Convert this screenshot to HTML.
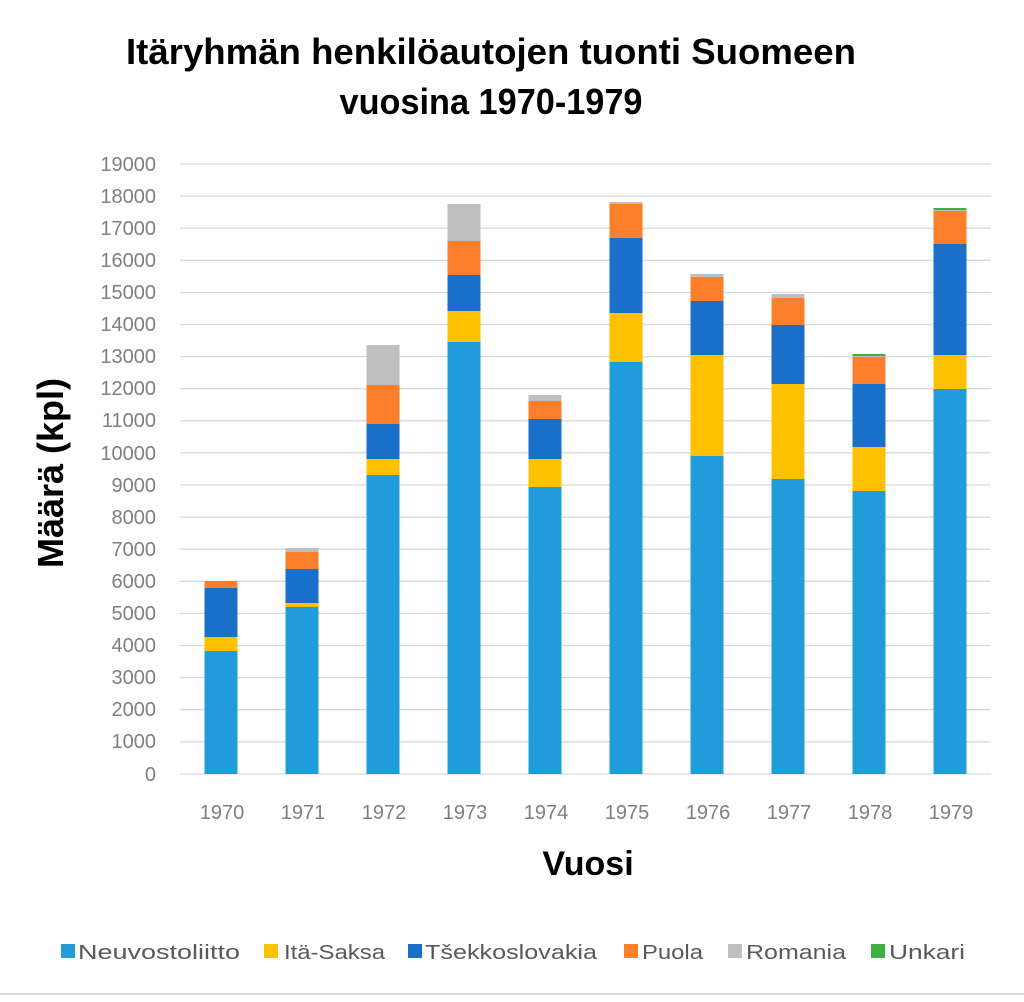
<!DOCTYPE html>
<html><head><meta charset="utf-8"><style>
body{margin:0;background:#fff}
svg text{font-family:"Liberation Sans",sans-serif}
</style></head><body>
<svg width="1024" height="997" viewBox="0 0 1024 997" xmlns="http://www.w3.org/2000/svg">
<rect width="1024" height="997" fill="#fff"/>
<text x="491" y="64" font-size="36" font-weight="bold" text-anchor="middle" textLength="730" lengthAdjust="spacingAndGlyphs">Itäryhmän henkilöautojen tuonti Suomeen</text>
<text x="491" y="114" font-size="36" font-weight="bold" text-anchor="middle" textLength="303" lengthAdjust="spacingAndGlyphs">vuosina 1970-1979</text>
<g stroke="#d9d9d9" stroke-width="1.3">
<line x1="180" x2="991" y1="164" y2="164"/><line x1="180" x2="991" y1="196.1" y2="196.1"/><line x1="180" x2="991" y1="228.2" y2="228.2"/><line x1="180" x2="991" y1="260.3" y2="260.3"/><line x1="180" x2="991" y1="292.4" y2="292.4"/><line x1="180" x2="991" y1="324.5" y2="324.5"/><line x1="180" x2="991" y1="356.6" y2="356.6"/><line x1="180" x2="991" y1="388.7" y2="388.7"/><line x1="180" x2="991" y1="420.8" y2="420.8"/><line x1="180" x2="991" y1="452.9" y2="452.9"/><line x1="180" x2="991" y1="485" y2="485"/><line x1="180" x2="991" y1="517.1" y2="517.1"/><line x1="180" x2="991" y1="549.2" y2="549.2"/><line x1="180" x2="991" y1="581.3" y2="581.3"/><line x1="180" x2="991" y1="613.4" y2="613.4"/><line x1="180" x2="991" y1="645.5" y2="645.5"/><line x1="180" x2="991" y1="677.6" y2="677.6"/><line x1="180" x2="991" y1="709.7" y2="709.7"/><line x1="180" x2="991" y1="741.8" y2="741.8"/><line x1="180" x2="991" y1="774" y2="774"/>
</g>
<g font-size="20" fill="#7f7f7f" text-anchor="end">
<text x="156" y="171">19000</text><text x="156" y="203">18000</text><text x="156" y="235">17000</text><text x="156" y="267">16000</text><text x="156" y="299">15000</text><text x="156" y="331">14000</text><text x="156" y="363">13000</text><text x="156" y="395">12000</text><text x="156" y="427">11000</text><text x="156" y="460">10000</text><text x="156" y="492">9000</text><text x="156" y="524">8000</text><text x="156" y="556">7000</text><text x="156" y="588">6000</text><text x="156" y="620">5000</text><text x="156" y="652">4000</text><text x="156" y="684">3000</text><text x="156" y="716">2000</text><text x="156" y="748">1000</text><text x="156" y="781">0</text>
</g>
<g>
<rect x="204.5" y="651" width="33" height="123" fill="#1f9cd9"/>
<rect x="204.5" y="637" width="33" height="14" fill="#ffc000"/>
<rect x="204.5" y="588" width="33" height="49" fill="#1a6fc8"/>
<rect x="204.5" y="581" width="33" height="7" fill="#fd7f2b"/>
<rect x="285.5" y="607" width="33" height="167" fill="#1f9cd9"/>
<rect x="285.5" y="603" width="33" height="4" fill="#ffc000"/>
<rect x="285.5" y="569" width="33" height="34" fill="#1a6fc8"/>
<rect x="285.5" y="552" width="33" height="17" fill="#fd7f2b"/>
<rect x="285.5" y="548" width="33" height="4" fill="#bfbfbf"/>
<rect x="366.5" y="475" width="33" height="299" fill="#1f9cd9"/>
<rect x="366.5" y="459" width="33" height="16" fill="#ffc000"/>
<rect x="366.5" y="424" width="33" height="35" fill="#1a6fc8"/>
<rect x="366.5" y="385" width="33" height="39" fill="#fd7f2b"/>
<rect x="366.5" y="345" width="33" height="40" fill="#bfbfbf"/>
<rect x="447.5" y="342" width="33" height="432" fill="#1f9cd9"/>
<rect x="447.5" y="311" width="33" height="31" fill="#ffc000"/>
<rect x="447.5" y="275" width="33" height="36" fill="#1a6fc8"/>
<rect x="447.5" y="241" width="33" height="34" fill="#fd7f2b"/>
<rect x="447.5" y="204" width="33" height="37" fill="#bfbfbf"/>
<rect x="528.5" y="487" width="33" height="287" fill="#1f9cd9"/>
<rect x="528.5" y="459" width="33" height="28" fill="#ffc000"/>
<rect x="528.5" y="419" width="33" height="40" fill="#1a6fc8"/>
<rect x="528.5" y="401" width="33" height="18" fill="#fd7f2b"/>
<rect x="528.5" y="395" width="33" height="6" fill="#bfbfbf"/>
<rect x="609.5" y="362" width="33" height="412" fill="#1f9cd9"/>
<rect x="609.5" y="313" width="33" height="49" fill="#ffc000"/>
<rect x="609.5" y="238" width="33" height="75" fill="#1a6fc8"/>
<rect x="609.5" y="204" width="33" height="34" fill="#fd7f2b"/>
<rect x="609.5" y="202" width="33" height="2" fill="#bfbfbf"/>
<rect x="690.5" y="456" width="33" height="318" fill="#1f9cd9"/>
<rect x="690.5" y="355" width="33" height="101" fill="#ffc000"/>
<rect x="690.5" y="301" width="33" height="54" fill="#1a6fc8"/>
<rect x="690.5" y="277" width="33" height="24" fill="#fd7f2b"/>
<rect x="690.5" y="274" width="33" height="3" fill="#bfbfbf"/>
<rect x="771.5" y="479" width="33" height="295" fill="#1f9cd9"/>
<rect x="771.5" y="384" width="33" height="95" fill="#ffc000"/>
<rect x="771.5" y="325" width="33" height="59" fill="#1a6fc8"/>
<rect x="771.5" y="298" width="33" height="27" fill="#fd7f2b"/>
<rect x="771.5" y="294" width="33" height="4" fill="#bfbfbf"/>
<rect x="852.5" y="491" width="33" height="283" fill="#1f9cd9"/>
<rect x="852.5" y="447" width="33" height="44" fill="#ffc000"/>
<rect x="852.5" y="384" width="33" height="63" fill="#1a6fc8"/>
<rect x="852.5" y="357" width="33" height="27" fill="#fd7f2b"/>
<rect x="852.5" y="356" width="33" height="1" fill="#bfbfbf"/>
<rect x="852.5" y="354" width="33" height="2" fill="#3cb043"/>
<rect x="933.5" y="389" width="33" height="385" fill="#1f9cd9"/>
<rect x="933.5" y="355" width="33" height="34" fill="#ffc000"/>
<rect x="933.5" y="244" width="33" height="111" fill="#1a6fc8"/>
<rect x="933.5" y="211" width="33" height="33" fill="#fd7f2b"/>
<rect x="933.5" y="210" width="33" height="1" fill="#bfbfbf"/>
<rect x="933.5" y="208" width="33" height="2" fill="#3cb043"/>
</g>
<g font-size="20" fill="#7f7f7f" text-anchor="middle">
<text x="222" y="819">1970</text><text x="303" y="819">1971</text><text x="384" y="819">1972</text><text x="465" y="819">1973</text><text x="546" y="819">1974</text><text x="627" y="819">1975</text><text x="708" y="819">1976</text><text x="789" y="819">1977</text><text x="870" y="819">1978</text><text x="951" y="819">1979</text>
</g>
<text x="588" y="875" font-size="34" font-weight="bold" text-anchor="middle">Vuosi</text>
<text transform="translate(63,473) rotate(-90)" font-size="36" font-weight="bold" text-anchor="middle">Määrä (kpl)</text>
<g font-size="20" fill="#595959">
<rect x="61" y="944" width="14" height="14" fill="#1f9cd9"/><text x="78" y="959" textLength="162" lengthAdjust="spacingAndGlyphs">Neuvostoliitto</text>
<rect x="264" y="944" width="14" height="14" fill="#ffc000"/><text x="284" y="959" textLength="101" lengthAdjust="spacingAndGlyphs">Itä-Saksa</text>
<rect x="408" y="944" width="14" height="14" fill="#1a6fc8"/><text x="425" y="959" textLength="172" lengthAdjust="spacingAndGlyphs">Tšekkoslovakia</text>
<rect x="624" y="944" width="14" height="14" fill="#fd7f2b"/><text x="642" y="959" textLength="61" lengthAdjust="spacingAndGlyphs">Puola</text>
<rect x="728" y="944" width="14" height="14" fill="#bfbfbf"/><text x="746" y="959" textLength="100" lengthAdjust="spacingAndGlyphs">Romania</text>
<rect x="871" y="944" width="14" height="14" fill="#3cb043"/><text x="889" y="959" textLength="76" lengthAdjust="spacingAndGlyphs">Unkari</text>
</g>
<line x1="0" x2="1024" y1="994" y2="994" stroke="#d9d9d9" stroke-width="2"/>
</svg>
</body></html>
